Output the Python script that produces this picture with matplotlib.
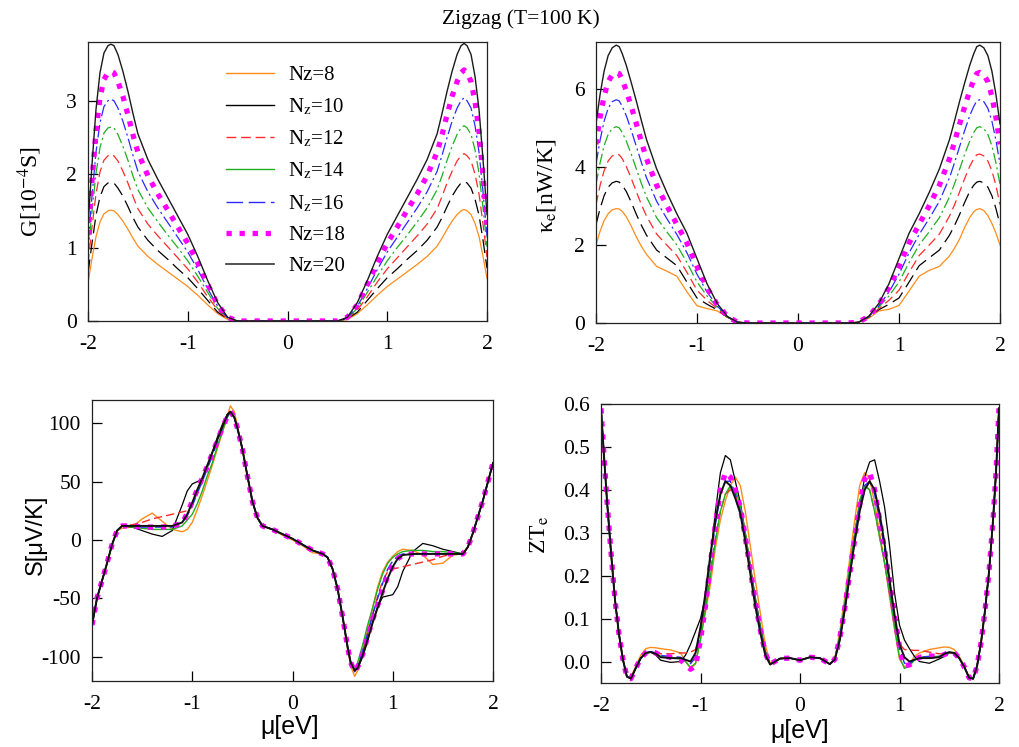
import matplotlib
matplotlib.use("Agg")
import matplotlib.pyplot as plt
from matplotlib.lines import Line2D

plt.rcParams['font.family'] = ['Liberation Serif', 'DejaVu Serif']
plt.rcParams['mathtext.fontset'] = 'stix'
plt.rcParams['lines.scale_dashes'] = False
plt.rcParams['axes.unicode_minus'] = False

nz_labels = ['Nz=8', r'N$_\mathrm{z}$=10', r'N$_\mathrm{z}$=12', r'N$_\mathrm{z}$=14',
             r'N$_\mathrm{z}$=16', 'Nz=18', 'Nz=20']

# ---- conductance G and electronic thermal conductance kappa ----
mu_gk = [-2.0, -1.96, -1.92, -1.88, -1.84, -1.8, -1.77, -1.74, -1.7, -1.65, -1.6, -1.55,
         -1.5, -1.4, -1.3, -1.2, -1.1, -1.0, -0.9, -0.8, -0.7, -0.6, -0.5,
         0.0,
         0.5, 0.6, 0.7, 0.8, 0.9, 1.0, 1.1, 1.2, 1.3, 1.4, 1.5,
         1.55, 1.6, 1.65, 1.7, 1.74, 1.77, 1.8, 1.84, 1.88, 1.92, 1.96, 2.0]

G8 = [0.52, 0.85, 1.15, 1.35, 1.46, 1.50, 1.51, 1.50, 1.45, 1.36, 1.25, 1.13, 1.02, 0.88, 0.77, 0.67, 0.57, 0.47, 0.35, 0.22, 0.10, 0.02, 0.0,
      0.0,
      0.0, 0.02, 0.10, 0.22, 0.35, 0.47, 0.57, 0.67, 0.77, 0.88, 1.02, 1.13, 1.25, 1.36, 1.45, 1.50, 1.52, 1.50, 1.45, 1.33, 1.15, 0.88, 0.58]
G10 = [0.65, 1.06, 1.44, 1.69, 1.83, 1.88, 1.89, 1.88, 1.81, 1.70, 1.56, 1.41, 1.28, 1.10, 0.96, 0.84, 0.71, 0.59, 0.44, 0.28, 0.12, 0.03, 0.0,
       0.0,
       0.0, 0.03, 0.12, 0.28, 0.44, 0.59, 0.71, 0.84, 0.96, 1.10, 1.28, 1.41, 1.56, 1.70, 1.81, 1.88, 1.90, 1.88, 1.81, 1.66, 1.44, 1.10, 0.72]
G12 = [0.78, 1.28, 1.73, 2.03, 2.19, 2.25, 2.27, 2.25, 2.18, 2.04, 1.88, 1.70, 1.53, 1.32, 1.16, 1.01, 0.86, 0.71, 0.53, 0.33, 0.15, 0.03, 0.0,
       0.0,
       0.0, 0.03, 0.15, 0.33, 0.53, 0.71, 0.86, 1.01, 1.16, 1.32, 1.53, 1.70, 1.88, 2.04, 2.18, 2.25, 2.28, 2.25, 2.18, 2.00, 1.73, 1.32, 0.87]
G14 = [0.91, 1.49, 2.01, 2.36, 2.56, 2.63, 2.64, 2.63, 2.54, 2.38, 2.19, 1.98, 1.79, 1.54, 1.35, 1.17, 1.00, 0.82, 0.61, 0.39, 0.17, 0.04, 0.0,
       0.0,
       0.0, 0.04, 0.17, 0.39, 0.61, 0.82, 1.00, 1.17, 1.35, 1.54, 1.79, 1.98, 2.19, 2.38, 2.54, 2.63, 2.66, 2.63, 2.54, 2.33, 2.01, 1.54, 1.01]
G16 = [1.04, 1.70, 2.30, 2.70, 2.92, 3.00, 3.02, 3.00, 2.90, 2.72, 2.50, 2.26, 2.04, 1.76, 1.54, 1.34, 1.14, 0.94, 0.70, 0.44, 0.20, 0.04, 0.0,
       0.0,
       0.0, 0.04, 0.20, 0.44, 0.70, 0.94, 1.14, 1.34, 1.54, 1.76, 2.04, 2.26, 2.50, 2.72, 2.90, 3.00, 3.04, 3.00, 2.90, 2.66, 2.30, 1.76, 1.16]
G18 = [1.17, 1.91, 2.59, 3.04, 3.29, 3.38, 3.40, 3.38, 3.26, 3.06, 2.81, 2.54, 2.30, 1.98, 1.73, 1.51, 1.28, 1.06, 0.79, 0.50, 0.22, 0.05, 0.0,
       0.0,
       0.0, 0.05, 0.22, 0.50, 0.79, 1.06, 1.28, 1.51, 1.73, 1.98, 2.30, 2.54, 2.81, 3.06, 3.26, 3.38, 3.42, 3.38, 3.26, 2.99, 2.59, 1.98, 1.31]
G20 = [1.30, 2.13, 2.88, 3.38, 3.65, 3.75, 3.77, 3.75, 3.63, 3.40, 3.13, 2.83, 2.55, 2.20, 1.93, 1.68, 1.43, 1.18, 0.88, 0.55, 0.25, 0.05, 0.0,
       0.0,
       0.0, 0.05, 0.25, 0.55, 0.88, 1.18, 1.43, 1.68, 1.93, 2.20, 2.55, 2.83, 3.13, 3.40, 3.63, 3.75, 3.78, 3.75, 3.63, 3.33, 2.88, 2.20, 1.45]

K8 = [2.00, 2.35, 2.62, 2.80, 2.90, 2.93, 2.92, 2.86, 2.72, 2.48, 2.20, 1.96, 1.76, 1.45, 1.33, 1.20, 0.80, 0.44, 0.37, 0.31, 0.15, 0.02, 0.0,
      0.0,
      0.0, 0.02, 0.12, 0.31, 0.35, 0.45, 0.82, 1.20, 1.35, 1.45, 1.72, 1.92, 2.15, 2.45, 2.70, 2.85, 2.91, 2.93, 2.88, 2.75, 2.55, 2.30, 2.00]
K10 = [2.52, 2.93, 3.26, 3.48, 3.59, 3.63, 3.61, 3.53, 3.37, 3.09, 2.78, 2.50, 2.25, 1.87, 1.67, 1.47, 1.05, 0.64, 0.48, 0.34, 0.15, 0.02, 0.0,
       0.0,
       0.0, 0.02, 0.15, 0.34, 0.48, 0.64, 1.05, 1.47, 1.67, 1.87, 2.25, 2.50, 2.78, 3.09, 3.37, 3.53, 3.61, 3.63, 3.59, 3.48, 3.26, 2.93, 2.52]
K12 = [3.03, 3.52, 3.90, 4.15, 4.28, 4.33, 4.31, 4.21, 4.01, 3.70, 3.36, 3.03, 2.74, 2.28, 2.00, 1.73, 1.30, 0.84, 0.58, 0.37, 0.16, 0.02, 0.0,
       0.0,
       0.0, 0.02, 0.16, 0.37, 0.58, 0.84, 1.30, 1.73, 2.00, 2.28, 2.74, 3.03, 3.36, 3.70, 4.01, 4.21, 4.31, 4.33, 4.28, 4.15, 3.90, 3.52, 3.03]
K14 = [3.55, 4.10, 4.54, 4.83, 4.98, 5.03, 5.00, 4.88, 4.66, 4.32, 3.94, 3.57, 3.23, 2.70, 2.34, 2.00, 1.55, 1.05, 0.69, 0.41, 0.16, 0.02, 0.0,
       0.0,
       0.0, 0.02, 0.16, 0.41, 0.69, 1.05, 1.55, 2.00, 2.34, 2.70, 3.23, 3.57, 3.94, 4.32, 4.66, 4.88, 5.00, 5.03, 4.98, 4.83, 4.54, 4.10, 3.55]
K16 = [4.07, 4.68, 5.17, 5.50, 5.67, 5.72, 5.69, 5.55, 5.31, 4.93, 4.52, 4.11, 3.72, 3.12, 2.68, 2.27, 1.80, 1.25, 0.79, 0.44, 0.16, 0.02, 0.0,
       0.0,
       0.0, 0.02, 0.16, 0.44, 0.79, 1.25, 1.80, 2.27, 2.68, 3.12, 3.72, 4.11, 4.52, 4.93, 5.31, 5.55, 5.69, 5.72, 5.67, 5.50, 5.17, 4.68, 4.07]
K18 = [4.58, 5.27, 5.81, 6.18, 6.36, 6.42, 6.39, 6.23, 5.95, 5.54, 5.10, 4.64, 4.21, 3.53, 3.01, 2.53, 2.05, 1.45, 0.90, 0.47, 0.17, 0.02, 0.0,
       0.0,
       0.0, 0.02, 0.17, 0.47, 0.90, 1.45, 2.05, 2.53, 3.01, 3.53, 4.21, 4.64, 5.10, 5.54, 5.95, 6.23, 6.39, 6.42, 6.36, 6.18, 5.81, 5.27, 4.58]
K20 = [5.10, 5.85, 6.45, 6.85, 7.05, 7.12, 7.08, 6.90, 6.60, 6.15, 5.68, 5.18, 4.70, 3.95, 3.35, 2.80, 2.30, 1.65, 1.00, 0.50, 0.17, 0.02, 0.0,
       0.0,
       0.0, 0.02, 0.17, 0.50, 1.00, 1.65, 2.30, 2.80, 3.35, 3.95, 4.70, 5.18, 5.68, 6.15, 6.60, 6.90, 7.08, 7.12, 7.05, 6.85, 6.45, 5.85, 5.10]

# ---- Seebeck coefficient S ----
mu_s = [-2.0, -1.95, -1.9, -1.85, -1.8, -1.75, -1.7,
        -1.6, -1.5, -1.4, -1.3, -1.2, -1.1, -1.05, -1.0, -0.95, -0.9, -0.85, -0.8, -0.75, -0.7, -0.65,
        -0.62,
        -0.58, -0.55, -0.5, -0.45, -0.4, -0.35, -0.3, -0.2, -0.1, 0.0, 0.1, 0.2, 0.3, 0.35, 0.4, 0.45, 0.5, 0.55, 0.58,
        0.62, 0.65, 0.7, 0.75, 0.8, 0.85, 0.9, 0.95, 1.0, 1.05, 1.1, 1.2, 1.3, 1.4, 1.5, 1.6,
        1.7, 1.75, 1.8, 1.85, 1.9, 1.95, 2.0]

S8 = [-73, -50, -35, -20, -4, 8, 10,
      11, 18, 23, 16, 9, 7, 9, 15, 26, 38, 51, 64, 78, 92, 106,
      115,
      110, 98, 78, 55, 33, 19, 12, 9, 4, 0, -5, -11, -12, -15, -25, -42, -66, -94, -108,
      -117, -112, -94, -75, -58, -40, -27, -19, -14, -10, -8, -9, -13, -21, -20, -13,
      -12, -6, 6, 20, 34, 50, 66]
S10 = [-73, -50, -35, -20, -4, 8, 12,
       11, 8, 5, 3, 8, 30, 42, 48, 50, 52, 62, 75, 88, 99, 108,
       110,
       105, 96, 78, 55, 33, 19, 12, 9, 5, 1, -4, -9, -12, -15, -25, -42, -66, -92, -105,
       -112, -110, -100, -87, -70, -57, -49, -48, -47, -40, -27, -10, -3, -5, -8, -10,
       -12, -6, 6, 20, 34, 50, 66]
S12 = [-73, -50, -35, -20, -4, 8, 12,
       13, 15, 18, 20, 22, 24, 25, 30, 42, 52, 62, 74, 86, 97, 107,
       110,
       105, 96, 78, 55, 33, 19, 12, 9, 5, 1, -4, -9, -12, -15, -25, -42, -66, -92, -105,
       -113, -109, -96, -80, -64, -48, -35, -27, -25, -24, -23, -21, -19, -17, -14, -12,
       -12, -6, 6, 20, 34, 50, 66]
S14 = [-73, -50, -35, -20, -4, 8, 12,
       11, 10, 9, 9, 9, 12, 17, 22, 31, 42, 55, 66, 80, 93, 105,
       110,
       105, 96, 78, 55, 33, 19, 12, 9, 5, 1, -4, -9, -12, -15, -25, -42, -66, -92, -105,
       -112, -105, -90, -73, -58, -42, -29, -20, -15, -12, -10, -9, -9, -10, -10, -11,
       -12, -6, 6, 20, 34, 50, 66]
S16 = [-73, -50, -35, -20, -4, 8, 12,
       12, 11, 11, 11, 11, 15, 21, 29, 40, 50, 61, 72, 84, 96, 106,
       110,
       105, 96, 78, 55, 33, 19, 12, 9, 5, 1, -4, -9, -12, -15, -25, -42, -66, -92, -105,
       -113, -108, -95, -80, -64, -50, -37, -25, -18, -14, -12, -12, -12, -12, -12, -12,
       -12, -6, 6, 20, 34, 50, 66]
S18 = [-73, -50, -35, -20, -4, 8, 12,
       12, 11, 11, 11, 12, 14, 23, 33, 43, 53, 63, 74, 85, 96, 106,
       110,
       105, 96, 78, 55, 33, 19, 12, 9, 5, 1, -4, -9, -12, -15, -25, -42, -66, -92, -105,
       -113, -109, -98, -83, -68, -56, -43, -31, -22, -16, -13, -12, -12, -12, -12, -12,
       -12, -6, 6, 20, 34, 50, 66]
S20 = [-73, -50, -35, -20, -4, 8, 12,
       12, 12, 12, 12, 12, 15, 22, 32, 43, 53, 64, 75, 86, 97, 107,
       110,
       105, 96, 78, 55, 33, 19, 12, 9, 5, 1, -4, -9, -12, -15, -25, -42, -66, -92, -105,
       -112, -110, -99, -85, -71, -58, -45, -33, -23, -16, -13, -12, -12, -12, -12, -12,
       -12, -6, 6, 20, 34, 50, 66]

# ---- electronic figure of merit ZT_e ----
mu_z = [-2.0, -1.97, -1.94, -1.9, -1.86, -1.82, -1.78, -1.74, -1.7, -1.65, -1.6, -1.55,
        -1.5, -1.45, -1.4, -1.3, -1.2, -1.15, -1.1, -1.05,
        -1.0, -0.95, -0.9, -0.85, -0.8, -0.75, -0.7, -0.65, -0.6, -0.55, -0.5, -0.45, -0.4, -0.35, -0.3,
        -0.2, -0.1, 0.0, 0.1, 0.2,
        0.3, 0.35, 0.4, 0.45, 0.5, 0.55, 0.6, 0.65, 0.7, 0.75, 0.8, 0.85, 0.9, 0.95, 1.0,
        1.05, 1.1, 1.15, 1.2, 1.3, 1.4, 1.45, 1.5,
        1.55, 1.6, 1.65, 1.7, 1.74, 1.78, 1.82, 1.86, 1.9, 1.94, 1.97, 2.0]

Z8 = [0.59, 0.48, 0.375, 0.256, 0.145, 0.065, 0.005, -0.035, -0.038, -0.01, 0.015, 0.03,
      0.033, 0.032, 0.03, 0.027, 0.02, 0.0, -0.016, -0.006,
      0.055, 0.115, 0.18, 0.265, 0.33, 0.375, 0.41, 0.43, 0.41, 0.35, 0.27, 0.19, 0.115, 0.04, -0.004,
      0.007, 0.008, 0.003, 0.01, 0.008,
      -0.006, 0.008, 0.07, 0.15, 0.24, 0.33, 0.41, 0.44, 0.425, 0.37, 0.30, 0.23, 0.15, 0.075, 0.005,
      -0.012, -0.006, 0.012, 0.02, 0.028, 0.032, 0.034, 0.033,
      0.028, 0.012, -0.01, -0.036, -0.04, -0.01, 0.045, 0.12, 0.21, 0.33, 0.44, 0.59]
Z10 = [0.59, 0.48, 0.375, 0.256, 0.145, 0.065, 0.005, -0.035, -0.04, -0.015, 0.008, 0.02,
       0.022, 0.015, 0.003, -0.002, 0.0, 0.015, 0.04, 0.07,
       0.10, 0.15, 0.24, 0.35, 0.44, 0.48, 0.47, 0.42, 0.37, 0.30, 0.225, 0.15, 0.085, 0.025, -0.006,
       0.007, 0.008, 0.003, 0.01, 0.008,
       -0.006, 0.005, 0.05, 0.12, 0.20, 0.28, 0.36, 0.43, 0.465, 0.47, 0.42, 0.36, 0.27, 0.16, 0.085,
       0.05, 0.03, 0.012, 0.0, -0.004, 0.006, 0.012, 0.02,
       0.02, 0.008, -0.012, -0.038, -0.04, -0.01, 0.045, 0.12, 0.21, 0.33, 0.44, 0.59]
Z12 = [0.59, 0.48, 0.375, 0.256, 0.145, 0.065, 0.005, -0.035, -0.04, -0.015, 0.008, 0.02,
       0.022, 0.02, 0.018, 0.018, 0.02, 0.02, 0.022, 0.028,
       0.07, 0.13, 0.21, 0.29, 0.35, 0.39, 0.40, 0.39, 0.35, 0.29, 0.215, 0.14, 0.075, 0.02, -0.006,
       0.007, 0.008, 0.003, 0.01, 0.008,
       -0.006, 0.006, 0.06, 0.13, 0.215, 0.30, 0.375, 0.41, 0.40, 0.35, 0.29, 0.23, 0.16, 0.09, 0.04,
       0.028, 0.027, 0.026, 0.026, 0.022, 0.018, 0.018, 0.02,
       0.02, 0.008, -0.012, -0.038, -0.04, -0.01, 0.045, 0.12, 0.21, 0.33, 0.44, 0.59]
Z14 = [0.59, 0.48, 0.375, 0.256, 0.145, 0.065, 0.005, -0.035, -0.04, -0.015, 0.008, 0.02,
       0.022, 0.02, 0.012, 0.008, 0.006, 0.0, -0.014, -0.004,
       0.05, 0.12, 0.20, 0.28, 0.35, 0.39, 0.41, 0.40, 0.365, 0.30, 0.22, 0.145, 0.08, 0.022, -0.006,
       0.007, 0.008, 0.003, 0.01, 0.008,
       -0.006, 0.006, 0.06, 0.135, 0.22, 0.30, 0.375, 0.41, 0.40, 0.35, 0.29, 0.23, 0.16, 0.08, 0.01,
       -0.016, -0.01, 0.003, 0.01, 0.012, 0.012, 0.016, 0.021,
       0.02, 0.008, -0.012, -0.038, -0.04, -0.01, 0.045, 0.12, 0.21, 0.33, 0.44, 0.59]
Z16 = [0.59, 0.48, 0.375, 0.256, 0.145, 0.065, 0.005, -0.035, -0.04, -0.015, 0.008, 0.02,
       0.023, 0.02, 0.014, 0.012, 0.01, 0.004, -0.005, 0.01,
       0.07, 0.15, 0.24, 0.32, 0.39, 0.42, 0.42, 0.39, 0.35, 0.29, 0.215, 0.14, 0.075, 0.02, -0.006,
       0.007, 0.008, 0.003, 0.01, 0.008,
       -0.006, 0.005, 0.055, 0.125, 0.205, 0.285, 0.36, 0.41, 0.42, 0.39, 0.33, 0.26, 0.18, 0.10, 0.03,
       -0.004, -0.006, 0.005, 0.01, 0.012, 0.012, 0.016, 0.022,
       0.02, 0.008, -0.012, -0.038, -0.04, -0.01, 0.045, 0.12, 0.21, 0.33, 0.44, 0.59]
Z18 = [0.59, 0.48, 0.375, 0.256, 0.145, 0.065, 0.005, -0.035, -0.04, -0.015, 0.008, 0.02,
       0.024, 0.02, 0.014, 0.01, 0.004, -0.008, -0.018, -0.01,
       0.05, 0.13, 0.23, 0.32, 0.40, 0.44, 0.43, 0.40, 0.36, 0.29, 0.215, 0.14, 0.075, 0.02, -0.006,
       0.007, 0.008, 0.003, 0.01, 0.008,
       -0.006, 0.005, 0.055, 0.125, 0.205, 0.285, 0.365, 0.425, 0.44, 0.40, 0.33, 0.26, 0.19, 0.11, 0.035,
       -0.01, -0.008, 0.002, 0.01, 0.013, 0.012, 0.016, 0.022,
       0.02, 0.008, -0.012, -0.038, -0.04, -0.01, 0.045, 0.12, 0.21, 0.33, 0.44, 0.59]
Z20 = [0.59, 0.48, 0.375, 0.256, 0.145, 0.065, 0.005, -0.035, -0.04, -0.015, 0.008, 0.02,
       0.022, 0.018, 0.01, 0.008, 0.008, 0.004, 0.0, 0.02,
       0.08, 0.16, 0.25, 0.33, 0.39, 0.42, 0.41, 0.38, 0.345, 0.28, 0.205, 0.13, 0.068, 0.016, -0.007,
       0.007, 0.008, 0.003, 0.01, 0.008,
       -0.006, 0.005, 0.05, 0.12, 0.20, 0.28, 0.35, 0.40, 0.42, 0.40, 0.345, 0.275, 0.19, 0.11, 0.04,
       0.01, 0.0, 0.004, 0.008, 0.008, 0.01, 0.018, 0.022,
       0.02, 0.008, -0.012, -0.038, -0.04, -0.01, 0.045, 0.12, 0.21, 0.33, 0.44, 0.59]

G_all = [G8, G10, G12, G14, G16, G18, G20]
K_all = [K8, K10, K12, K14, K16, K18, K20]
S_all = [S8, S10, S12, S14, S16, S18, S20]
Z_all = [Z8, Z10, Z12, Z14, Z16, Z18, Z20]

ORANGE = '#ff8c1a'
RED = '#ff2a2a'
GREEN = '#1faf1f'
BLUE = '#2a2aff'
MAG = '#ff00ff'
DOTS = (0, (3.8, 5.6))

top_styles = [
    dict(color=ORANGE, lw=0.9, ls='-'),
    dict(color='black', lw=0.9, ls=(0, (10, 4.5))),
    dict(color=RED, lw=0.9, ls=(0, (7, 3.5))),
    dict(color=GREEN, lw=0.9, ls=(0, (8, 2.5, 1.5, 2.5))),
    dict(color=BLUE, lw=0.9, ls=(0, (9, 2.5, 1.5, 2.5))),
    dict(color=MAG, lw=3.8, ls=DOTS),
    dict(color='#1a1a1a', lw=1.0, ls='-'),
]
bottom_styles = [
    dict(color=ORANGE, lw=1.0, ls='-'),
    dict(color='black', lw=0.9, ls='-'),
    dict(color=RED, lw=1.0, ls=(0, (6, 3))),
    dict(color=GREEN, lw=1.0, ls='-'),
    dict(color=BLUE, lw=1.0, ls=(0, (8, 3))),
    dict(color=MAG, lw=3.8, ls=DOTS),
    dict(color='#111111', lw=1.4, ls='-'),
]
legend_styles = [
    dict(color=ORANGE, lw=1.0, ls='-'),
    dict(color='black', lw=1.0, ls='-'),
    dict(color=RED, lw=1.0, ls=(0, (7, 3.5))),
    dict(color=GREEN, lw=1.0, ls='-'),
    dict(color=BLUE, lw=1.0, ls=(0, (12, 4))),
    dict(color=MAG, lw=3.8, ls=DOTS),
    dict(color='#333333', lw=1.2, ls='-'),
]

W, H = 1019, 747
fig = plt.figure(figsize=(W / 100, H / 100), dpi=100)


def box(left, top, right, bottom):
    return [left / W, 1 - bottom / H, (right - left) / W, (bottom - top) / H]


ax_g = fig.add_axes(box(88, 42, 487, 321))
ax_k = fig.add_axes(box(596, 42, 1000, 323))
ax_s = fig.add_axes(box(92, 400, 493, 681))
ax_z = fig.add_axes(box(601, 404, 999, 683))

for ys, st in zip(G_all, top_styles):
    ax_g.plot(mu_gk, ys, **st)
for ys, st in zip(K_all, top_styles):
    ax_k.plot(mu_gk, ys, **st)
for ys, st in zip(S_all, bottom_styles):
    ax_s.plot(mu_s, ys, **st)
for ys, st in zip(Z_all, bottom_styles):
    ax_z.plot(mu_z, ys, **st)

ax_g.set_ylim(0, 3.8)
ax_g.set_yticks([0, 1, 2, 3])
ax_k.set_ylim(0, 7.2)
ax_k.set_yticks([0, 2, 4, 6])
ax_s.set_ylim(-121, 120)
ax_s.set_yticks([-100, -50, 0, 50, 100])
ax_z.set_ylim(-0.05, 0.6)
ax_z.set_yticks([0.0, 0.1, 0.2, 0.3, 0.4, 0.5, 0.6])
ax_z.set_yticklabels(['0.0', '0.1', '0.2', '0.3', '0.4', '0.5', '0.6'])

for ax in (ax_g, ax_k, ax_s, ax_z):
    ax.set_xlim(-2, 2)
    ax.set_xticks([-2, -1, 0, 1, 2])
    ax.tick_params(direction='in', length=7, width=0.9, top=False, right=False,
                   labelsize=15.5, colors='black')
    ax.tick_params(axis='x', pad=10)
    ax.tick_params(axis='y', pad=8)
    for sp in ax.spines.values():
        sp.set_linewidth(0.9)
        sp.set_color('#222222')

handles = [Line2D([], [], **st) for st in legend_styles]
ax_g.legend(handles, nz_labels, loc='upper left', bbox_to_anchor=(0.345, 0.915),
            frameon=False, fontsize=15, handlelength=2.3, handletextpad=0.7,
            labelspacing=0.55, borderpad=0, borderaxespad=0)

fig.text(521 / W, 1 - 19 / H, 'Zigzag (T=100 K)', ha='center', va='center', fontsize=15.5)
fig.text(30 / W, 1 - 192 / H, r'G[10$^{-4}$S]', rotation=90, ha='center', va='center', fontsize=17)
fig.text(546 / W, 1 - 186 / H, r'κ$_\mathrm{e}$[nW/K]', rotation=90, ha='center', va='center', fontsize=17)
fig.text(36 / W, 1 - 535 / H, 'S[μV/K]', rotation=90, ha='center', va='center', fontsize=17,
         family=['Liberation Sans', 'DejaVu Sans'])
fig.text(540 / W, 1 - 535 / H, r'ZT$_\mathrm{e}$', rotation=90, ha='center', va='center', fontsize=17)
fig.text(290 / W, 1 - 727 / H, 'μ[eV]', ha='center', va='center', fontsize=18,
         family=['Liberation Sans', 'DejaVu Sans'])
fig.text(800 / W, 1 - 731 / H, 'μ[eV]', ha='center', va='center', fontsize=18,
         family=['Liberation Sans', 'DejaVu Sans'])

fig.savefig('out.png', dpi=100)
